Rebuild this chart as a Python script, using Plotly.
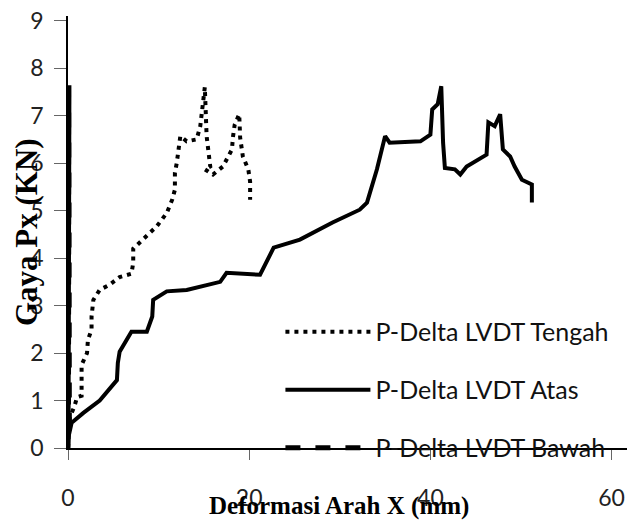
import plotly.graph_objects as go

# ---- data ----
tengah_x = [0.0, 0.2, 0.7, 1.0, 1.5, 1.5, 1.5, 2.1, 2.2, 2.6, 2.6, 2.8, 3.5, 4.6, 5.7, 7.0, 7.2,
            7.2, 8.3, 9.8, 10.9, 11.5, 11.8, 11.8, 12.0, 12.2, 12.4, 13.1, 14.2, 14.6, 14.8, 14.9,
            15.1, 15.3, 15.5, 15.7, 15.1, 16.0, 17.1, 18.1, 18.2, 18.4, 18.9, 19.0, 19.3, 19.9,
            20.1, 20.1]
tengah_y = [0.0, 0.65, 0.87, 1.07, 1.1, 1.37, 1.75, 2.0, 2.28, 2.49, 2.77, 3.12, 3.33, 3.44, 3.6,
            3.67, 3.9, 4.2, 4.39, 4.67, 4.95, 5.23, 5.44, 5.8, 6.0, 6.25, 6.57, 6.46, 6.5, 6.78,
            7.06, 7.2, 7.6, 6.57, 6.3, 5.93, 5.87, 5.76, 5.93, 6.29, 6.54, 6.81, 7.03, 6.54, 6.14,
            5.87, 5.61, 5.23]

atas_x = [0.0, 0.05, 0.4, 1.7, 3.5, 5.4, 5.5, 5.7, 7.0, 8.7, 9.3, 9.4, 10.9, 13.1, 16.8,
          17.5, 21.2, 22.7, 25.6, 29.2, 32.2, 33.0, 34.1, 34.7, 35.0, 35.5, 38.9, 40.0, 40.2,
          40.8, 41.2, 41.4, 41.6, 42.7, 43.3, 44.0, 46.2, 46.4, 47.1, 47.7, 48.0, 48.8, 49.3,
          50.1, 51.2, 51.2]
atas_y = [0.0, 0.23, 0.53, 0.74, 1.0, 1.43, 1.79, 2.03, 2.45, 2.45, 2.77, 3.12, 3.3, 3.33, 3.5,
          3.69, 3.65, 4.22, 4.39, 4.75, 5.02, 5.17, 5.87, 6.35, 6.57, 6.43, 6.46, 6.6, 7.13,
          7.24, 7.62, 6.43, 5.9, 5.87, 5.76, 5.93, 6.18, 6.86, 6.78, 7.03, 6.29, 6.14, 5.93,
          5.65, 5.55, 5.17]

bawah_x = [0.0, 0.1, 0.15, 0.1, 0.05, 0.1]
bawah_y = [0.0, 7.64, 0.4, 7.3, 0.2, 7.6]

x_ticks = [0, 20, 40, 60]
y_ticks = [0, 1, 2, 3, 4, 5, 6, 7, 8, 9]

names = ["P-Delta LVDT Tengah", "P-Delta LVDT Atas", "P-Delta LVDT Bawah"]

fig = go.Figure()
fig.add_trace(go.Scatter(x=tengah_x, y=tengah_y, mode="lines", name=names[0], legendgroup="a",
                         line=dict(color="black", width=4, dash="4px,5px")))
fig.add_trace(go.Scatter(x=atas_x, y=atas_y, mode="lines", name=names[1], legendgroup="b",
                         line=dict(color="black", width=4)))
fig.add_trace(go.Scatter(x=bawah_x, y=bawah_y, mode="lines", name=names[2], legendgroup="c",
                         line=dict(color="black", width=5, dash="15px,15px")))

tick_font = dict(family="Lato, sans-serif", size=23, color="#222")
legend_font = dict(family="Lato, sans-serif", size=25, color="#111")
fig.update_layout(
    width=627, height=526,
    margin=dict(l=68, r=0, t=16, b=78),
    paper_bgcolor="white", plot_bgcolor="white",
    showlegend=True,
    legend=dict(x=0.38, y=0.322, xanchor="left", yanchor="top", font=legend_font,
                traceorder="grouped", tracegroupgap=22.5, itemwidth=85,
                bgcolor="rgba(0,0,0,0)"),
    xaxis=dict(range=[0, 61.7], tickvals=x_ticks, showgrid=False, zeroline=False,
               showline=True, linecolor="black", linewidth=1.5,
               ticks="outside", ticklen=10, tickwidth=1, tickcolor="#666",
               ticklabelstandoff=19, tickfont=tick_font),
    yaxis=dict(range=[0, 9.1], tickvals=y_ticks, showgrid=False, zeroline=False,
               showline=True, linecolor="black", linewidth=1.5,
               ticks="outside", ticklen=12, tickwidth=1, tickcolor="#666",
               ticklabelstandoff=6, tickfont=tick_font),
    annotations=[
        dict(text="<b>Deformasi Arah X (mm)</b>", xref="paper", yref="paper",
             x=0.485, y=-0.135, xanchor="center", yanchor="middle", showarrow=False,
             font=dict(family="Liberation Serif, Times New Roman, serif", size=25, color="black")),
        dict(text="<b>Gaya Px (KN)</b>", xref="paper", yref="paper", textangle=-90,
             x=-0.075, y=0.5, xanchor="center", yanchor="middle", showarrow=False,
             font=dict(family="Liberation Serif, Times New Roman, serif", size=31, color="black")),
    ],
)

fig.write_html("out.html")
